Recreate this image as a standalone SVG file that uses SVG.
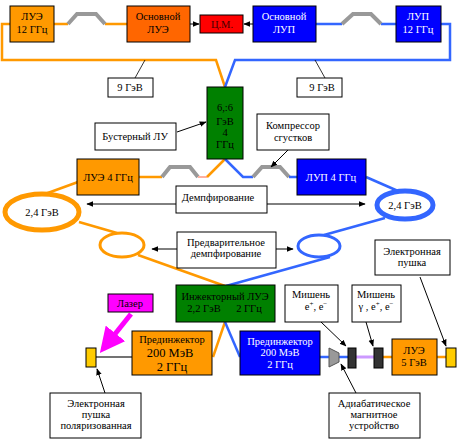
<svg xmlns="http://www.w3.org/2000/svg" width="458" height="445" viewBox="0 0 458 445" font-family="'Liberation Serif', 'Times New Roman', serif">
<defs>
<style>
text{font-family:'Liberation Serif','Times New Roman',serif;font-size:10.5px;fill:#000;text-anchor:middle}
.w{fill:#fff}
.box{stroke:#000;stroke-width:1}
.lbl{fill:#fff;stroke:#000;stroke-width:1}
.or{fill:none;stroke:#FF9900;stroke-width:2.5}
.bl{fill:none;stroke:#3366FF;stroke-width:2.5}
.ch{fill:none;stroke:#999;stroke-width:4;stroke-linejoin:miter}
.ar{fill:none;stroke:#000;stroke-width:1;marker-end:url(#ah)}
</style>
<marker id="ah" viewBox="0 0 10 10" refX="9" refY="5" markerWidth="7" markerHeight="7" orient="auto" markerUnits="userSpaceOnUse"><path d="M0,1 L10,5 L0,9 Z" fill="#000"/></marker>
<marker id="mh" viewBox="0 0 10 10" refX="8" refY="5" markerWidth="5" markerHeight="5" orient="auto"><path d="M0,0 L10,5 L0,10 Z" fill="#FF00FF"/></marker>
</defs>

<g id="connectors">
<path class="or" d="M10,24 H2 V60 H216 L225,87"/>
<path class="bl" d="M441,24 H450 V60 H235 L225,87"/>
<path class="or" d="M54,24 H68 M105,24 H127"/>
<path class="ch" d="M68,24 L77,14 H96 L105,24"/>
<path class="bl" d="M316,24 H342 M381,24 H396"/>
<path class="ch" d="M342,24 L353,14 H371 L381,24"/>
<path class="ar" d="M190,24 H199"/>
<path class="ar" d="M253,24 H244"/>
<line x1="145" y1="60" x2="135" y2="78" stroke="#000" stroke-width="0.8"/>
<line x1="315" y1="60" x2="325" y2="78" stroke="#000" stroke-width="0.8"/>
<path class="or" d="M139,177 H162"/>
<path class="ch" d="M162,177 L170,167 H190 L198,177"/>
<path d="M198,177 H207" stroke="#FFB0A0" stroke-width="2"/>
<path class="or" d="M207,177 L225,159"/>
<path class="bl" d="M225,159 L243,177 H253"/>
<path class="ch" d="M253,177 L262,167 H280 L289,177"/>
<path class="bl" d="M289,177 H297"/>
<path class="ar" d="M177,132 L206,122"/>
<path class="ar" d="M288,150 L271,167"/>
<path class="or" d="M78,182 L45,194"/>
<path class="or" d="M79,222 L117,233"/>
<path class="or" d="M138,255 L225,286"/>
<path class="bl" d="M366,177 L398,191"/>
<path class="bl" d="M385,218 L324,235"/>
<path class="bl" d="M330,257 L226,286"/>
<ellipse cx="42" cy="212" rx="37" ry="18" fill="none" stroke="#FF9900" stroke-width="5"/>
<ellipse cx="122" cy="245" rx="22" ry="12" fill="none" stroke="#FF9900" stroke-width="3"/>
<ellipse cx="405" cy="205" rx="28" ry="14" fill="none" stroke="#3366FF" stroke-width="5"/>
<ellipse cx="319" cy="246" rx="21" ry="11" fill="none" stroke="#3366FF" stroke-width="3"/>
<path class="ar" d="M176,204 H87"/>
<path class="ar" d="M267,204 H365"/>
<path class="ar" d="M177,249 H152"/>
<path class="ar" d="M276,249 H293"/>
<path class="or" d="M225,322 L213,357"/>
<path class="bl" d="M225,322 L240,357"/>
<line x1="96" y1="357" x2="132" y2="357" stroke="#444" stroke-width="1.5"/>
<path d="M131,314 L103,349" stroke="#FF00FF" stroke-width="5" fill="none" marker-end="url(#mh)"/>
<path class="ar" d="M105,393 L97,369"/>
<path class="bl" d="M320,357 H330 M339,357 H348"/>
<path d="M356,357 H374" stroke="#CC99FF" stroke-width="3"/>
<path class="or" d="M383,357 H392 M437,357 H446"/>
<path class="ar" d="M321,322 L346,346"/>
<path class="ar" d="M366,322 L373,346"/>
<path class="ar" d="M356,393 L341,364"/>
<path class="ar" d="M420,277 L446,346"/>
</g>

<g id="lue12"><rect class="box" x="10" y="6" width="44" height="36" fill="#FF9900"/><text x="32" y="20">ЛУЭ</text><text x="32" y="33">12 ГГц</text></g>
<g id="main-lue"><rect class="box" x="127" y="6" width="63" height="36" fill="#FF6600"/><text x="158" y="20">Основной</text><text x="158" y="33">ЛУЭ</text></g>
<g id="cm"><rect class="box" x="200" y="15" width="43" height="18" fill="#FF0000"/><text x="222" y="28" style="fill:#400">Ц.М.</text></g>
<g id="main-lup"><rect class="box" x="253" y="6" width="63" height="36" fill="#0000FF"/><text class="w" x="284" y="20">Основной</text><text class="w" x="284" y="33">ЛУП</text></g>
<g id="lup12"><rect class="box" x="396" y="6" width="45" height="36" fill="#0000FF"/><text class="w" x="418" y="20">ЛУП</text><text class="w" x="418" y="33">12 ГГц</text></g>
<g id="l9left"><rect class="lbl" x="108" y="78" width="45" height="19"/><text x="130" y="91">9 ГэВ</text></g>
<g id="l9right"><rect class="lbl" x="297" y="78" width="45" height="19"/><text x="322" y="91">9 ГэВ</text></g>
<g id="booster"><rect class="box" x="207" y="87" width="36" height="72" fill="#008000"/><text x="225" y="111">6,:6</text><text x="225" y="125">ГэВ</text><text x="225" y="136">4</text><text x="225" y="148">ГГц</text></g>
<g id="booster-label"><rect class="lbl" x="95" y="123" width="81" height="27"/><text x="135" y="140">Бустерный ЛУ</text></g>
<g id="compressor"><rect class="lbl" x="257" y="114" width="72" height="36"/><text x="293" y="129">Компрессор</text><text x="293" y="141">сгустков</text></g>
<g id="lue4"><rect class="box" x="77" y="159" width="62" height="36" fill="#FF9900"/><text x="108" y="181">ЛУЭ 4 ГГц</text></g>
<g id="lup4"><rect class="box" x="297" y="159" width="69" height="36" fill="#0000FF" stroke="#0000FF"/><text class="w" x="331" y="181">ЛУП 4 ГГц</text></g>
<g id="ring-left"><text x="42" y="216">2,4 ГэВ</text></g>
<g id="ring-right"><text x="405" y="209">2,4 ГэВ</text></g>
<g id="damping"><rect class="lbl" x="176" y="186" width="91" height="27"/><text x="218" y="201">Демпфирование</text></g>
<g id="predamping"><rect class="lbl" x="177" y="232" width="99" height="36"/><text x="226" y="246">Предварительное</text><text x="226" y="257">демпфирование</text></g>
<g id="gun-right-label"><rect class="lbl" x="375" y="240" width="75" height="35"/><text x="412" y="255">Электронная</text><text x="412" y="266">пушка</text></g>
<g id="injector"><rect class="box" x="176" y="285" width="99" height="37" fill="#008000"/><text x="225" y="300">Инжекторный ЛУЭ</text><text x="204" y="312">2,2 ГэВ</text><text x="249" y="312">2 ГГц</text></g>
<g id="laser"><rect class="box" x="108" y="294" width="45" height="18" fill="#FF00FF"/><text x="130" y="307">Лазер</text></g>
<g id="gun-left"><rect class="box" x="86" y="348" width="10" height="19" fill="#FFCC00"/></g>
<g id="preinj-e"><rect class="box" x="132" y="331" width="80" height="44" fill="#FF9900"/><text x="172" y="343">Прединжектор</text><text x="170" y="357" style="font-size:12.5px">200 МэВ</text><text x="172" y="371" style="font-size:12.5px">2 ГГц</text></g>
<g id="gun-left-label"><rect class="lbl" x="50" y="393" width="91" height="45"/><text x="96" y="407">Электронная</text><text x="96" y="418">пушка</text><text x="96" y="429">поляризованная</text></g>
<g id="preinj-p"><rect class="box" x="240" y="331" width="80" height="44" fill="#0000FF"/><text class="w" x="280" y="345">Прединжектор</text><text class="w" x="280" y="356">200 МэВ</text><text class="w" x="280" y="368">2 ГГц</text></g>
<g id="adiabatic"><path d="M329,348 L339,353 V362 L329,367 Z" fill="#999" stroke="#555" stroke-width="1"/></g>
<g id="target1"><rect class="box" x="348" y="348" width="8" height="20" fill="#333"/></g>
<g id="target2"><rect class="box" x="374" y="348" width="9" height="20" fill="#333"/></g>
<g id="lue5"><rect class="box" x="392" y="339" width="45" height="36" fill="#FF9900"/><text x="414" y="354">ЛУЭ</text><text x="414" y="366">5 ГэВ</text></g>
<g id="gun-right"><rect class="box" x="446" y="348" width="10" height="19" fill="#FFCC00"/></g>
<g id="target1-label"><rect class="lbl" x="285" y="285" width="53" height="37"/><text x="311" y="298">Мишень</text><text x="316" y="310">e<tspan dy="-4" style="font-size:7px">+</tspan><tspan dy="4">, e</tspan><tspan dy="-4" style="font-size:7px">−</tspan></text></g>
<g id="target2-label"><rect class="lbl" x="352" y="285" width="49" height="37"/><text x="376" y="298">Мишень</text><text x="376" y="310">γ , e<tspan dy="-4" style="font-size:7px">+</tspan><tspan dy="4">, e</tspan><tspan dy="-4" style="font-size:7px">−</tspan></text></g>
<g id="adiabatic-label"><rect class="lbl" x="329" y="393" width="91" height="45"/><text x="374" y="407">Адиабатическое</text><text x="374" y="418">магнитное</text><text x="374" y="429">устройство</text></g>
</svg>
